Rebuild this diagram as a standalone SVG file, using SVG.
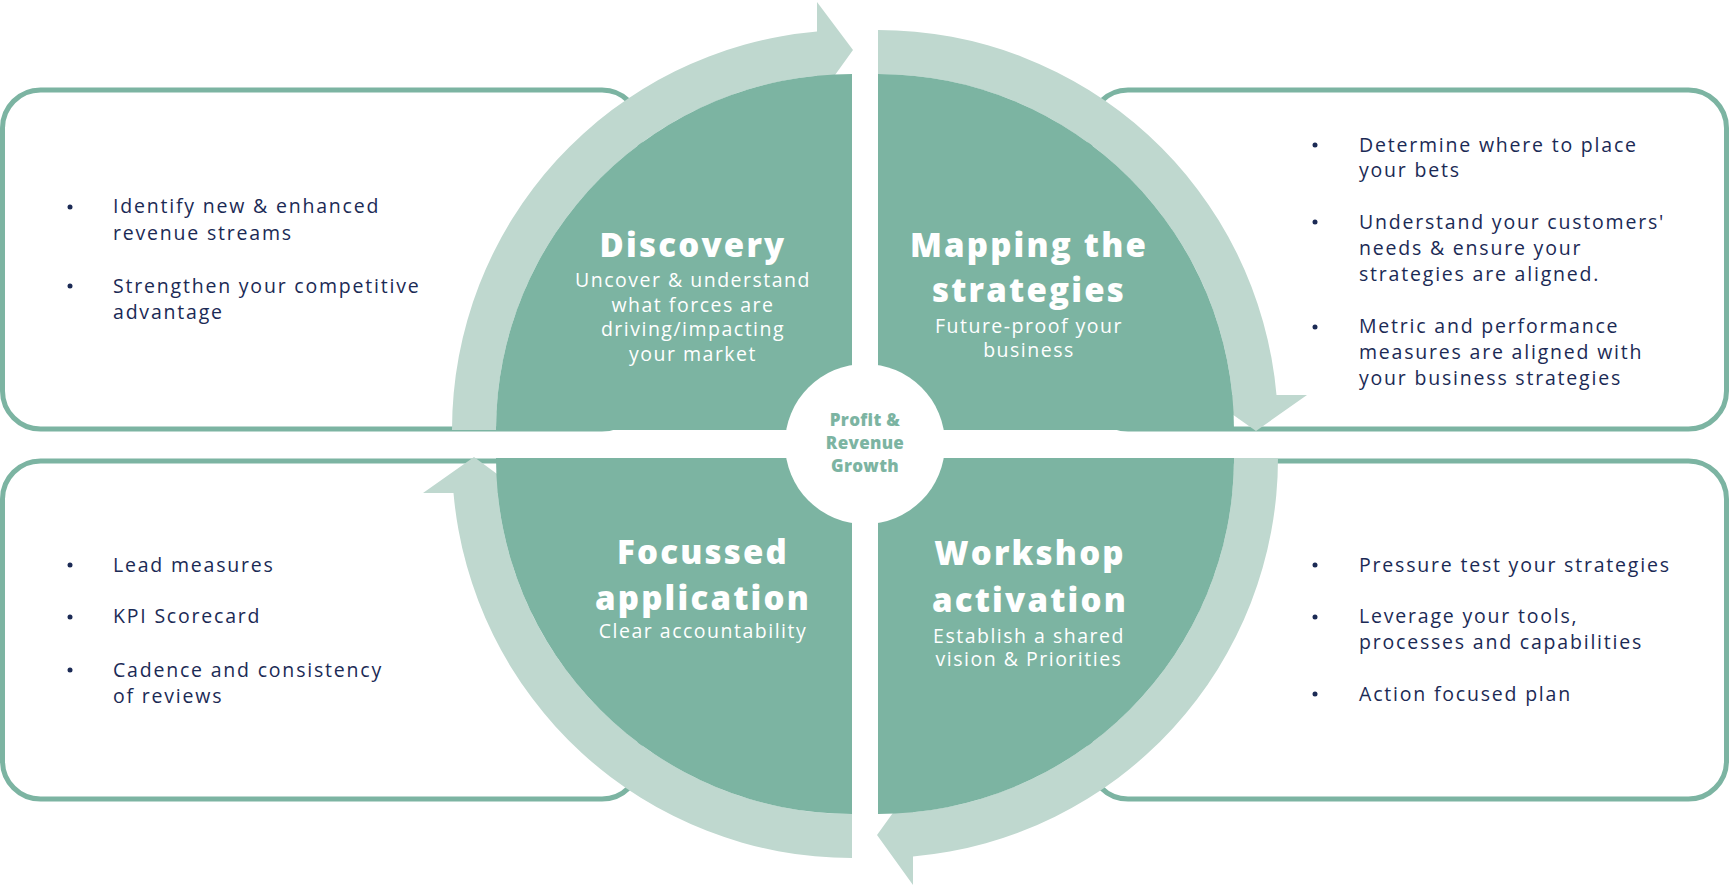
<svg xmlns="http://www.w3.org/2000/svg" width="1729" height="887" viewBox="0 0 1729 887">
  <style>
    .box { fill: #ffffff; stroke: #7cb4a2; stroke-width: 5; }
    .quad { fill: #7cb4a2; }
    .band { fill: #bfd8cf; }
    .body { font-family: "Open Sans", "DejaVu Sans", sans-serif; font-size: 19.5px; letter-spacing: 1.8px; fill: #1b2a55; }
    .dot { fill: #1b2a55; }
    .title { font-family: "Open Sans", "DejaVu Sans", sans-serif; font-weight: 800; font-size: 33px; letter-spacing: 2.2px; fill: #ffffff; text-anchor: middle; }
    .sub { font-family: "Open Sans", "DejaVu Sans", sans-serif; font-size: 19.5px; letter-spacing: 1.5px; fill: #ffffff; text-anchor: middle; }
    .hub { font-family: "Open Sans", "DejaVu Sans", sans-serif; font-weight: 800; font-size: 17px; letter-spacing: 0.3px; fill: #7cb4a2; text-anchor: middle; font-variant-ligatures: none; }
  </style>
  <rect x="0" y="0" width="1729" height="887" fill="#ffffff"/>

  <g id="box-top-left">
    <rect class="box" x="2.5" y="90" width="637.5" height="339" rx="38"/>
    <circle class="dot" cx="70" cy="207" r="2.5"/>
    <text class="body" x="113" y="213">Identify new &amp; enhanced</text>
    <text class="body" x="113" y="240">revenue streams</text>
    <circle class="dot" cx="70" cy="286" r="2.5"/>
    <text class="body" x="113" y="293">Strengthen your competitive</text>
    <text class="body" x="113" y="319">advantage</text>
  </g>

  <g id="box-top-right">
    <rect class="box" x="1090" y="90" width="636.5" height="339" rx="38"/>
    <circle class="dot" cx="1315" cy="145" r="2.5"/>
    <text class="body" x="1359" y="152">Determine where to place</text>
    <text class="body" x="1359" y="177">your bets</text>
    <circle class="dot" cx="1315" cy="222" r="2.5"/>
    <text class="body" x="1359" y="229">Understand your customers'</text>
    <text class="body" x="1359" y="255">needs &amp; ensure your</text>
    <text class="body" x="1359" y="281">strategies are aligned.</text>
    <circle class="dot" cx="1315" cy="327" r="2.5"/>
    <text class="body" x="1359" y="333">Metric and performance</text>
    <text class="body" x="1359" y="359">measures are aligned with</text>
    <text class="body" x="1359" y="385">your business strategies</text>
  </g>

  <g id="box-bottom-left">
    <rect class="box" x="2.5" y="461" width="637.5" height="338" rx="38"/>
    <circle class="dot" cx="70" cy="565" r="2.5"/>
    <text class="body" x="113" y="572">Lead measures</text>
    <circle class="dot" cx="70" cy="617" r="2.5"/>
    <text class="body" x="113" y="623">KPI Scorecard</text>
    <circle class="dot" cx="70" cy="670" r="2.5"/>
    <text class="body" x="113" y="677">Cadence and consistency</text>
    <text class="body" x="113" y="703">of reviews</text>
  </g>

  <g id="box-bottom-right">
    <rect class="box" x="1090" y="461" width="636.5" height="338" rx="38"/>
    <circle class="dot" cx="1315" cy="565" r="2.5"/>
    <text class="body" x="1359" y="572">Pressure test your strategies</text>
    <circle class="dot" cx="1315" cy="617" r="2.5"/>
    <text class="body" x="1359" y="623">Leverage your tools,</text>
    <text class="body" x="1359" y="649">processes and capabilities</text>
    <circle class="dot" cx="1315" cy="694" r="2.5"/>
    <text class="body" x="1359" y="701">Action focused plan</text>
  </g>

  <g id="connectors">
    <path class="band" d="M452,430 A400,400 0 0 1 817,31.5 L817,2 L853,50 L817,100 L817,75.7 A356,356 0 0 0 496,430 Z"/>
    <path class="band" d="M878,30 A400,400 0 0 1 1276.5,395 L1307,395 L1256,431 L1205,395 L1232.3,395 A356,356 0 0 0 878,74 Z"/>
    <path class="band" d="M1278,458 A400,400 0 0 1 913,856.5 L913,885 L877,835 L913,785 L913,812.3 A356,356 0 0 0 1234,458 Z"/>
    <path class="band" d="M852,858 A400,400 0 0 1 453.5,493 L423,493 L474,457 L523,493 L497.7,493 A356,356 0 0 0 852,814 Z"/>
  </g>

  <g id="discovery">
    <path class="quad" d="M852,430 L496,430 A356,356 0 0 1 852,74 Z"/>
    <text class="title" x="693" y="257">Discovery</text>
    <text class="sub" x="693" y="287">Uncover &amp; understand</text>
    <text class="sub" x="693" y="311.5">what forces are</text>
    <text class="sub" x="693" y="336">driving/impacting</text>
    <text class="sub" x="693" y="360.5">your market</text>
  </g>

  <g id="mapping">
    <path class="quad" d="M878,430 L878,74 A356,356 0 0 1 1234,430 Z"/>
    <text class="title" x="1029" y="257">Mapping the</text>
    <text class="title" x="1029" y="302">strategies</text>
    <text class="sub" x="1029" y="333">Future-proof your</text>
    <text class="sub" x="1029" y="357">business</text>
  </g>

  <g id="workshop">
    <path class="quad" d="M878,458 L1234,458 A356,356 0 0 1 878,814 Z"/>
    <text class="title" x="1030" y="565">Workshop</text>
    <text class="title" x="1030" y="612">activation</text>
    <text class="sub" x="1029" y="643">Establish a shared</text>
    <text class="sub" x="1029" y="666">vision &amp; Priorities</text>
  </g>

  <g id="focussed">
    <path class="quad" d="M852,458 L852,814 A356,356 0 0 1 496,458 Z"/>
    <text class="title" x="703" y="564">Focussed</text>
    <text class="title" x="703" y="610">application</text>
    <text class="sub" x="703" y="638">Clear accountability</text>
  </g>

  <g id="hub">
    <circle cx="865" cy="444" r="80" fill="#ffffff"/>
    <text class="hub" x="865" y="426">Profit &amp;</text>
    <text class="hub" x="865" y="449">Revenue</text>
    <text class="hub" x="865" y="472">Growth</text>
  </g>
</svg>
